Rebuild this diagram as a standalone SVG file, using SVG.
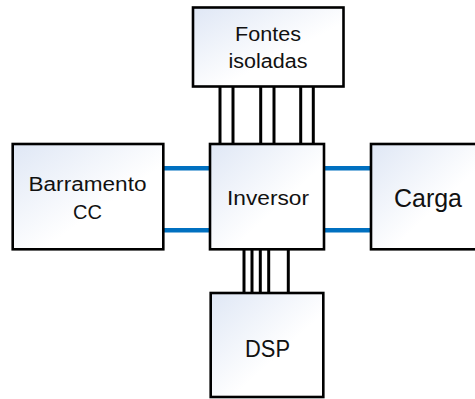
<svg xmlns="http://www.w3.org/2000/svg" width="475" height="399" viewBox="0 0 475 399">
<defs>
<linearGradient id="g" x1="0" y1="0" x2="1" y2="1">
<stop offset="0" stop-color="#DFE7F5"/>
<stop offset="0.6" stop-color="#FFFFFF"/>
<stop offset="1" stop-color="#FFFFFF"/>
</linearGradient>
</defs>
<style>
.box{fill:url(#g);stroke:#000;stroke-width:2.6}
.t{font-family:"Liberation Sans",Arial,sans-serif;fill:#111;text-anchor:middle}
.k{stroke:#000;stroke-width:3;fill:none}
.b{stroke:#0070C0;stroke-width:4.5;fill:none}
</style>
<g id="connectors">
<line class="k" x1="220" y1="86" x2="220" y2="144"/>
<line class="k" x1="233" y1="86" x2="233" y2="144"/>
<line class="k" x1="260.7" y1="86" x2="260.7" y2="144"/>
<line class="k" x1="274" y1="86" x2="274" y2="144"/>
<line class="k" x1="300.7" y1="86" x2="300.7" y2="144"/>
<line class="k" x1="313.3" y1="86" x2="313.3" y2="144"/>
<line class="k" x1="244" y1="249" x2="244" y2="293"/>
<line class="k" x1="252" y1="249" x2="252" y2="293"/>
<line class="k" x1="260.3" y1="249" x2="260.3" y2="293"/>
<line class="k" x1="268.7" y1="249" x2="268.7" y2="293"/>
<line class="k" x1="288.3" y1="249" x2="288.3" y2="293"/>
<line class="b" x1="163" y1="168.3" x2="210" y2="168.3"/>
<line class="b" x1="163" y1="230.3" x2="210" y2="230.3"/>
<line class="b" x1="324" y1="168.3" x2="371" y2="168.3"/>
<line class="b" x1="324" y1="230.3" x2="371" y2="230.3"/>
</g>
<g id="fontes">
<rect class="box" x="193" y="7.5" width="150.5" height="79"/>
<text class="t" x="268" y="40.5" font-size="20" textLength="66" lengthAdjust="spacingAndGlyphs">Fontes</text>
<text class="t" x="268" y="68.3" font-size="20" textLength="79" lengthAdjust="spacingAndGlyphs">isoladas</text>
</g>
<g id="barramento">
<rect class="box" x="12.7" y="144" width="150.6" height="105.3"/>
<text class="t" x="87.5" y="191" font-size="20" textLength="118" lengthAdjust="spacingAndGlyphs">Barramento</text>
<text class="t" x="87.5" y="219.3" font-size="20">CC</text>
</g>
<g id="inversor">
<rect class="box" x="210" y="144" width="114" height="105.3"/>
<text class="t" x="268" y="205" font-size="21" textLength="82" lengthAdjust="spacingAndGlyphs">Inversor</text>
</g>
<g id="carga">
<rect class="box" x="371" y="144" width="110" height="105.3"/>
<text class="t" x="428" y="207.3" font-size="25" textLength="68" lengthAdjust="spacingAndGlyphs">Carga</text>
</g>
<g id="dsp">
<rect class="box" x="210.7" y="293" width="112.6" height="104"/>
<text class="t" x="267.5" y="357.3" font-size="23" textLength="45" lengthAdjust="spacingAndGlyphs">DSP</text>
</g>
</svg>
